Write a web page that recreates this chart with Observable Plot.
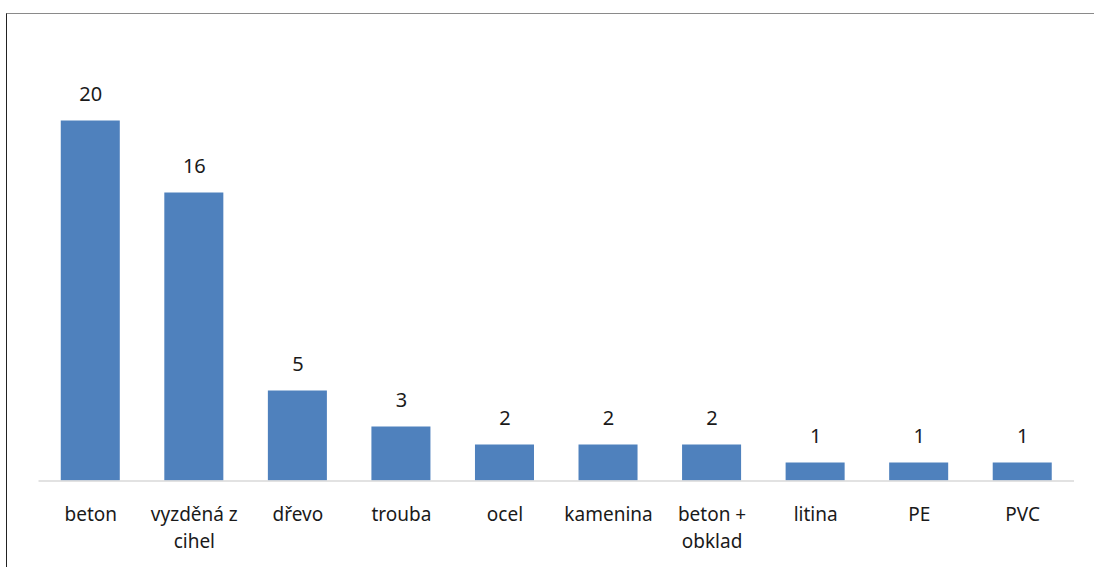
<!DOCTYPE html>
<html>
<head>
<meta charset="utf-8">
<script src="https://cdn.jsdelivr.net/npm/d3@7"></script>
<script src="https://cdn.jsdelivr.net/npm/@observablehq/plot@0.6"></script>
<style>
  html, body { margin: 0; padding: 0; background: #fff; }
  #wrap { position: relative; width: 1094px; height: 567px; overflow: hidden; }
  #frame { position: absolute; left: 6px; top: 13px; width: 1200px; height: 700px;
           border-top: 1px solid #8a8a8a; border-left: 1px solid #222; pointer-events: none; }
  #chart { position: absolute; left: 0; top: 0; }
</style>
</head>
<body>
<div id="wrap"><div id="chart"></div><div id="frame"></div></div>
<script>
const categories = ["beton", "vyzděná z cihel", "dřevo", "trouba", "ocel", "kamenina", "beton + obklad", "litina", "PE", "PVC"];
const values = [20, 16, 5, 3, 2, 2, 2, 1, 1, 1];
const tickLabels = ["beton", "vyzděná z\ncihel", "dřevo", "trouba", "ocel", "kamenina", "beton +\nobklad", "litina", "PE", "PVC"];

const data = categories.map((c, i) => ({category: c, value: values[i]}));
const labelOf = new Map(categories.map((c, i) => [c, tickLabels[i]]));

const font = "'Noto Sans', 'Open Sans', sans-serif";
const chart = Plot.plot({
  width: 1094,
  height: 567,
  marginLeft: 38.5,
  marginRight: 20,
  marginTop: 120.5,
  marginBottom: 86.5,
  style: {fontFamily: font, background: "transparent", color: "#1a1a1a"},
  x: {domain: categories, paddingInner: 0.43, paddingOuter: 0.215, round: false, label: null},
  y: {domain: [0, 20], axis: null},
  marks: [
    Plot.barY(data, {x: "category", y: "value", fill: "#4f81bd"}),
    Plot.ruleY([0], {stroke: "#d9d9d9", strokeWidth: 1.3}),
    Plot.text(data, {x: "category", y: "value", text: d => String(d.value), dy: -26,
      lineAnchor: "middle", fontSize: 20, fill: "#1a1a1a"}),
    Plot.axisX({tickSize: 0, tickPadding: 20, fontSize: 19, lineHeight: 1.45,
      tickFormat: d => labelOf.get(d), fill: "#1a1a1a", label: null})
  ]
});
document.getElementById("chart").appendChild(chart);
</script>
</body>
</html>
